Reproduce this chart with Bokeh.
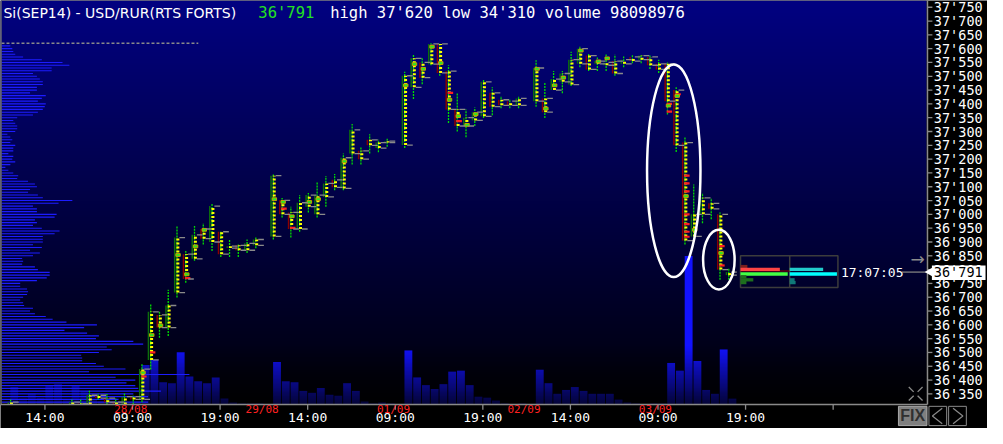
import numpy as np
from bokeh.plotting import figure
from bokeh.models import Range1d
from bokeh.core.properties import value
from bokeh.embed import file_html
from bokeh.resources import INLINE

nan = float("nan")

# ---------------- data ----------------
SYMBOL = "Si(SEP14) - USD/RUR(RTS FORTS)"
LAST = 36791
HIGH = 37620
LOW = 34310
VOLUME = 98098976
LAST_TIME = "17:07:05"

bars = list(range(83))  # hourly bars
opens = [36300, 36280, 36290, 36280, 36270, 36280, 36290, 36305, 36315, 36310,
         36345, 36335, 36320, 36310, 36340, 36330, 36473, 36636, 36590, 36717,
         36856, 36839, 36947, 36900, 36937, 36878, 36888, 36870, 36888, nan,
         36920, 37051, 37007, 36947, 37028, 37000, 37063, 37125, 37094, 37220,
         37230, 37270, 37240, 37260, nan, 37251, 37460, 37550, 37544, 37617,
         37519, 37380, 37320, 37340, 37355, 37440, 37415, 37410, 37395, nan,
         37410, 37420, 37450, 37480, 37470, 37545, 37575, 37545, 37540, 37555,
         37545, 37570, 37560, 37570, 37545, 37545, 37450, 37260, 36920, 37000,
         37040, 37000, 36780]
highs = [36330, 36300, 36305, 36300, 36300, 36305, 36305, 36330, 36330, 36361,
         36352, 36350, 36335, 36352, 36345, 36460, 36675, 36647, 36727, 36958,
         36867, 36958, 36968, 37038, 36937, 36909, 36891, 36909, 36916, nan,
         37146, 37059, 37028, 37070, 37077, 37119, 37139, 37146, 37220, 37327,
         37244, 37290, 37270, 37275, nan, 37516, 37579, 37568, 37620, 37620,
         37540, 37439, 37380, 37387, 37488, 37460, 37429, 37418, 37429, nan,
         37558, 37478, 37519, 37519, 37589, 37610, 37582, 37568, 37579, 37579,
         37572, 37579, 37579, 37575, 37560, 37550, 37460, 37279, 37108, 37077,
         37059, 37007, 36804]
lows = [36290, 36260, 36270, 36260, 36250, 36260, 36275, 36290, 36295, 36300,
        36330, 36310, 36290, 36300, 36300, 36320, 36438, 36553, 36560, 36699,
        36752, 36832, 36891, 36867, 36846, 36846, 36846, 36860, 36877, nan,
        36909, 36989, 36916, 36937, 37007, 36989, 37028, 37087, 37087, 37181,
        37181, 37220, 37225, 37245, nan, 37240, 37418, 37471, 37540, 37502,
        37331, 37300, 37279, 37320, 37349, 37359, 37384, 37384, 37384, nan,
        37390, 37349, 37450, 37439, 37465, 37533, 37519, 37519, 37519, 37502,
        37533, 37547, 37547, 37526, 37512, 37362, 37226, 36891, 36909, 36968,
        36982, 36763, 36763]
closes = [36320, 36290, 36280, 36290, 36290, 36295, 36300, 36320, 36310, 36345,
          36335, 36320, 36310, 36340, 36330, 36440, 36647, 36590, 36670, 36916,
          36766, 36926, 36912, 37030, 36856, 36885, 36870, 36895, 36909, nan,
          37140, 37000, 36947, 37042, 37070, 37070, 37112, 37098, 37205, 37306,
          37200, 37250, 37260, 37265, nan, 37502, 37565, 37495, 37617, 37512,
          37380, 37320, 37350, 37370, 37480, 37390, 37395, 37395, 37420, nan,
          37530, 37370, 37490, 37510, 37560, 37600, 37525, 37555, 37550, 37510,
          37560, 37555, 37575, 37540, 37525, 37410, 37250, 36905, 37000, 37060,
          37020, 36800, 36791]
volumes = [18, 6, 11, 7, 20, 21, 5, 20, 14, 5,
           3, 2, 2, 2, 3, 41, 46, 23, 22, 54,
           29, 24, 22, 28, 6, 2, 1, 1, 1, 0,
           44, 24, 23, 14, 12, 17, 10, 9, 22, 14,
           3, 1, 2, 1, 0, 56, 28, 20, 16, 21,
           34, 35, 20, 8, 7, 4, 1, 0, 1, 0,
           36, 22, 11, 15, 18, 14, 11, 11, 11, 5,
           2, 1, 0, 1, 1, 43, 35, 154, 45, 15,
           11, 57, 6]

# point-of-control cells (green boxes) and heavy-selling cells (red)
poc_bar = [15, 16, 17, 19, 20, 21, 22, 30, 31, 32, 34, 35, 38, 45, 46, 47, 48,
           49, 50, 51, 52, 53, 60, 61, 62, 63, 65, 67, 68, 75, 76, 77, 78, 81]
poc_price = [36427, 36563, 36598, 36853, 36783, 36884, 36944, 37055, 37045, 36993,
             37045, 37055, 37192, 37467, 37544, 37527, 37607, 37548, 37415, 37356,
             37324, 37363, 37527, 37383, 37467, 37495, 37593, 37554, 37565, 37394,
             37429, 37066, 36944, 36860]
red_bar = [15, 16, 20, 31, 32, 50, 51, 75, 75, 76, 77, 77, 77, 77, 77, 77, 77, 81, 81]
red_price = [36413, 36500, 36769, 37021, 36951, 37440, 37338, 37400, 37372, 37435,
             37140, 37112, 37083, 37000, 36965, 36937, 36919, 36885, 36815]

# volume profile (price levels, step 10) on the left
prof_top = 37610
prof_volume = [10, 12, 13, 15, 23, 42, 63, 70, 52, 52,
               33, 37, 40, 43, 43, 37, 37, 30, 46, 42,
               38, 46, 45, 43, 38, 33, 17, 13, 15, 17,
               17, 15, 7, 10, 12, 10, 15, 13, 13, 8,
               13, 12, 15, 10, 5, 8, 13, 18, 17, 28,
               35, 37, 30, 28, 38, 43, 73, 59, 33, 37,
               37, 57, 55, 35, 37, 33, 42, 60, 55, 43,
               43, 43, 33, 42, 30, 40, 33, 22, 23, 22,
               35, 38, 50, 50, 47, 37, 20, 20, 27, 28,
               27, 23, 20, 23, 24, 33, 30, 35, 46, 53,
               67, 98, 85, 65, 88, 100, 97, 135, 145, 108,
               113, 100, 82, 83, 83, 97, 105, 127, 90, 192,
               117, 137, 128, 137, 140, 163, 135, 150, 120, 150]
prof_levels = [prof_top - 10 * i for i in range(len(prof_volume))]

# order book widget
book_price = [36811, 36801, 36784, 36774, 36763, 36753]
book_bid = [7, 40, 48, 6, 13, 6]
book_bid_color = ["#7a1e1e", "#ff4444", "#44ff44", "#1e6e1e", "#1e6e1e", "#1e6e1e"]
book_ask = [0, 34, 48, 0, 5, 6]
book_ask_color = ["#1ec8c8", "#22cccc", "#00ffff", "#107878", "#107878", "#107878"]

# axes
y_ticks = list(range(36350, 37751, 50))
y_tick_labels = ["%d'%03d" % (v // 1000, v % 1000) for v in y_ticks]
x_ticks = [3.5, 13.5, 23.5, 33.5, 43.5, 53.5, 63.5, 73.5, 83.5, 93.5]
x_tick_labels = ["14:00", "09:00", "19:00", "14:00", "09:00", "19:00",
                 "14:00", "09:00", "19:00", ""]
date_pos = [13.3, 28.3, 43.3, 58.2, 73.2]
date_labels = ["28/08", "29/08", "01/09", "02/09", "03/09"]

# highlight ellipses
ell_x = [75.3, 80.45]
ell_y = [37158, 36836]
ell_w = [6.1, 3.6]
ell_h = [771, 216]


# ---------------- layout helpers (screen layout of the terminal window) ----------------
def fmt(v):
    return "%d'%03d" % (v // 1000, v % 1000)


def py(ypx):          # vertical pixel of the 1003x444 window -> price scale
    return 37774.4 - ypx * 3.4904


XS, XE = -14 / 8.9, (1003 - 14) / 8.9     # bar-index scale over full window
XM = (941 - 14) / 8.9                     # right edge of the price pane
YS, YE = py(444), py(0)
YM = py(419)                              # bottom edge of the price pane

MONO = value("DejaVu Sans Mono")
SANS = value("DejaVu Sans")

p = figure(width=987, height=428, output_backend="svg", toolbar_location=None,
           x_range=Range1d(XS, XE), y_range=Range1d(YS, YE),
           x_axis_location=None, y_axis_location=None,
           min_border=0, min_border_left=0, min_border_right=0,
           min_border_top=0, min_border_bottom=0)
p.extra_x_ranges = {"px": Range1d(0, 1003), "book": Range1d(-752, 251)}
p.extra_y_ranges = {"vol": Range1d(-25, 419)}
p.background_fill_color = "black"
p.border_fill_color = "black"
p.outline_line_color = None
p.grid.visible = False

# background gradient of the price pane (navy -> near black)
N = 420
t = np.linspace(0.0, 1.0, N)
bg = np.zeros((N, 1), dtype=np.uint32)
v = bg.view(dtype=np.uint8).reshape((N, 1, 4))
v[:, 0, 0] = (2 * t).astype(np.uint8)
v[:, 0, 1] = (2 * t).astype(np.uint8)
v[:, 0, 2] = (8 + 122 * t).astype(np.uint8)
v[:, 0, 3] = 255
p.image_rgba(image=[bg], x=XS, y=YM, dw=XM - XS, dh=YE - YM)

# volume bars
p.vbar(x=bars, top=volumes, width=0.9, bottom=0, y_range_name="vol",
       fill_color="#1212ff", line_color=None)

# darkening toward the bottom of the volume pane
M = 60
ov = np.zeros((M, 1), dtype=np.uint32)
ovv = ov.view(dtype=np.uint8).reshape((M, 1, 4))
ovv[:, 0, 3] = (np.linspace(0.78, 0.0, M) * 255).astype(np.uint8)
p.image_rgba(image=[ov], x=XS, y=0, dw=XM - XS, dh=60, y_range_name="vol")

# volume profile
p.segment(x0=[1] * len(prof_volume), y0=prof_levels, x1=prof_volume, y1=prof_levels,
          x_range_name="px", line_color="#1c1cff", line_width=1.1)

# session-high marker line
p.segment(x0=[1], y0=[HIGH], x1=[201], y1=[HIGH], x_range_name="px",
          line_color="#8a8a8a", line_width=1.5, line_dash="3 2")

# candles (clipped to the price pane)
O = np.array(opens, float); H = np.array(highs, float)
L = np.array(lows, float); C = np.array(closes, float)
J = np.array(bars, float)
ok = ~np.isnan(O) & (H > YM)
Jk, Ok, Hk, Lk, Ck = J[ok], O[ok], H[ok], L[ok], C[ok]
lo_b = np.maximum(np.minimum(Ok, Ck), YM)
hi_b = np.maximum(Ok, Ck)
body_col = ["#0c6e0c" if c >= o else "#8b0000" for o, c in zip(Ok, Ck)]

p.segment(x0=Jk - 0.68, y0=lo_b, x1=Jk - 0.68, y1=hi_b, line_color=body_col, line_width=1.5)
p.segment(x0=Jk - 0.42, y0=np.maximum(Lk, YM), x1=Jk - 0.42, y1=Hk, line_color="#00e000",
          line_width=1.3, line_dash="2 1")
p.segment(x0=Jk - 0.32, y0=lo_b, x1=Jk - 0.32, y1=hi_b, line_color="#ffff00",
          line_width=3, line_dash="2 2")
p.rect(x=np.array(red_bar, float) - 0.2, y=red_price, width=0.62, height=8,
       fill_color="#ff2020", line_color=None)
p.rect(x=np.array(poc_bar, float) - 0.3, y=poc_price, width=0.5, height=10,
       fill_color="#22ee22", line_color="#c0a000", line_width=1)
mo = Ok > YM
mc = Ck > YM
p.segment(x0=Jk[mo] - 0.15, y0=Ok[mo], x1=Jk[mo] + 0.5, y1=Ok[mo],
          line_color="#8a8a8a", line_width=1.3)
p.segment(x0=Jk[mc] - 0.15, y0=Ck[mc], x1=Jk[mc] + 0.5, y1=Ck[mc],
          line_color="#8a8a8a", line_width=1.3)

# highlight ellipses
p.ellipse(x=ell_x, y=ell_y, width=ell_w, height=ell_h, fill_color=None,
          line_color="white", line_width=2.5)

# order book widget
p.quad(left=[0], right=[99], bottom=[36735], top=[36850], x_range_name="book",
       fill_color=None, line_color="#3c3c3c", line_width=1.5)
p.segment(x0=[50], y0=[36735], x1=[50], y1=[36850], x_range_name="book",
          line_color="#3c3c3c", line_width=1.5)
p.segment(x0=[0], y0=[36795], x1=[50], y1=[36795], x_range_name="book",
          line_color="#8b0000", line_width=1)
p.hbar(y=book_price, left=[0] * len(book_price), right=book_bid, height=12,
       x_range_name="book", fill_color=book_bid_color, line_color=None)
p.hbar(y=book_price, left=[50] * len(book_price), right=[50 + a for a in book_ask],
       height=12, x_range_name="book", fill_color=book_ask_color, line_color=None)
p.segment(x0=[164], y0=[LAST], x1=[189], y1=[LAST], x_range_name="book",
          line_color="#808080", line_width=1.3)
p.text(x=[102], y=[LAST], text=[LAST_TIME], x_range_name="book", text_font=MONO,
       text_font_size="13px", text_color="white", text_baseline="middle")
p.text(x=[932], y=[py(268)], text=["\u2192"], x_range_name="px", text_font=SANS,
       text_font_size="17px", text_color="#8c8c8c", text_baseline="middle",
       text_align="center")

# left window border
p.segment(x0=[0.6], y0=[YM], x1=[0.6], y1=[YE], x_range_name="px",
          line_color="#707070", line_width=1.2)

# title line
p.text(x=[3], y=[py(13)], text=[SYMBOL], x_range_name="px", text_font=SANS,
       text_font_size="14px", text_color="white", text_baseline="middle")
p.text(x=[262], y=[py(13)], text=[fmt(LAST)], x_range_name="px", text_font=MONO,
       text_font_size="15.5px", text_color="#22e022", text_baseline="middle")
p.text(x=[335], y=[py(13)], text=["high %s low %s volume %d" % (fmt(HIGH), fmt(LOW), VOLUME)],
       x_range_name="px", text_font=MONO, text_font_size="15.5px",
       text_color="white", text_baseline="middle")

# ---- price axis (right) ----
p.segment(x0=[942], y0=[YM], x1=[942], y1=[YE], x_range_name="px",
          line_color="#8a8a8a", line_width=1.5)
p.segment(x0=[942] * len(y_ticks), y0=y_ticks, x1=[947] * len(y_ticks), y1=y_ticks,
          x_range_name="px", line_color="#8a8a8a", line_width=1.3)
p.text(x=[948.5] * len(y_ticks), y=y_ticks, text=y_tick_labels, x_range_name="px",
       text_font=MONO, text_font_size="13.5px", text_color="white",
       text_baseline="middle")

# ---- time axis (bottom) ----
p.segment(x0=[0], y0=[YM], x1=[942], y1=[YM], x_range_name="px",
          line_color="#8a8a8a", line_width=1.5)
p.segment(x0=x_ticks, y0=[YM] * len(x_ticks), x1=x_ticks, y1=[py(424.5)] * len(x_ticks),
          line_color="#8a8a8a", line_width=1.3)
p.text(x=x_ticks, y=[py(433)] * len(x_ticks), text=x_tick_labels, text_font=MONO,
       text_font_size="13px", text_color="white", text_baseline="middle",
       text_align="center")
p.text(x=date_pos, y=[py(424)] * len(date_pos), text=date_labels, text_font=MONO,
       text_font_size="11px", text_color="#ff2020", text_baseline="middle",
       text_align="center")

# current price marker on the price axis
p.scatter(x=[944.5], y=[LAST], marker="triangle", angle=np.pi / 2, size=9,
          x_range_name="px", fill_color="white", line_color=None)
p.quad(left=[946.5], right=[1001], bottom=[py(290)], top=[py(275)], x_range_name="px",
       fill_color="white", line_color=None)
p.text(x=[948.5], y=[LAST], text=[fmt(LAST)], x_range_name="px", text_font=MONO,
       text_font_size="13.5px", text_color="black", text_baseline="middle")

# buttons in the corner
p.quad(left=[912.5], right=[941.5], bottom=[py(441)], top=[py(421)], x_range_name="px",
       fill_color="#7f7f7f", line_color="#a8a8a8", line_width=1)
p.text(x=[927], y=[py(431)], text=["FIX"], x_range_name="px",
       text_font=value("Liberation Sans"), text_font_style="bold",
       text_font_size="16px", text_color="#303030", text_baseline="middle",
       text_align="center")
p.quad(left=[943.5, 963.5], right=[961.5, 981.5], bottom=[py(441)] * 2, top=[py(421)] * 2,
       x_range_name="px", fill_color=None, line_color="#8a8a8a", line_width=1)
p.line(x=[957, 947, 957], y=[py(423), py(431), py(439)], x_range_name="px",
       line_color="#8a8a8a", line_width=1.2)
p.line(x=[968, 978, 968], y=[py(423), py(431), py(439)], x_range_name="px",
       line_color="#8a8a8a", line_width=1.2)

# expand icon
p.segment(x0=[923, 937, 923, 937], y0=[py(401), py(401), py(415), py(415)],
          x1=[928, 932, 928, 932], y1=[py(406), py(406), py(410), py(410)],
          x_range_name="px", line_color="#8a8a8a", line_width=1.3)

open("out.html", "w").write(file_html(p, INLINE))
